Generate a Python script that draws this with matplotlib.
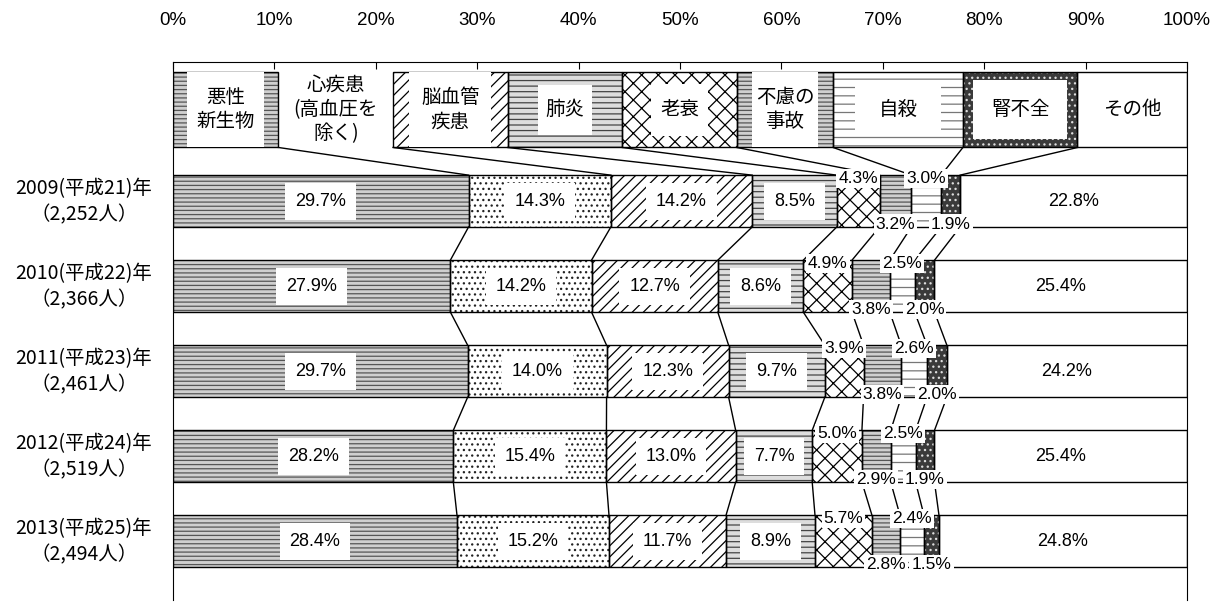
#Causes of death by year - stacked 100% bars with hatched patterns
import matplotlib.pyplot as plt
import numpy as np
from matplotlib import font_manager
from matplotlib.patches import Rectangle

plt.rcParams['font.family'] = ['Noto Sans CJK JP', 'DejaVu Sans']
plt.rcParams['hatch.linewidth'] = 0.9

#pick a narrower font for the numbers if there is one
names = {f.name for f in font_manager.fontManager.ttflist}
num_font = 'DejaVu Sans'
for cand in ['Liberation Sans Narrow', 'Liberation Sans']:
    if cand in names:
        num_font = cand
        break

#Data
years = ['2009(平成21)年', '2010(平成22)年', '2011(平成23)年', '2012(平成24)年', '2013(平成25)年']
deaths = ['（2,252人）', '（2,366人）', '（2,461人）', '（2,519人）', '（2,494人）']
causes = ['悪性新生物', '心疾患(高血圧を除く)', '脳血管疾患', '肺炎', '老衰',
          '不慮の事故', '自殺', '腎不全', 'その他']
legend_labels = ['悪性\n新生物', '心疾患\n(高血圧を\n除く)', '脳血管\n疾患', '肺炎', '老衰',
                 '不慮の\n事故', '自殺', '腎不全', 'その他']
malignant = [29.7, 27.9, 29.7, 28.2, 28.4]
heart = [14.3, 14.2, 14.0, 15.4, 15.2]
cerebro = [14.2, 12.7, 12.3, 13.0, 11.7]
pneumonia = [8.5, 8.6, 9.7, 7.7, 8.9]
senility = [4.3, 4.9, 3.9, 5.0, 5.7]
accident = [3.2, 3.8, 3.8, 2.9, 2.8]
suicide = [3.0, 2.5, 2.6, 2.5, 2.4]
renal = [1.9, 2.0, 2.0, 1.9, 1.5]
other = [22.8, 25.4, 24.2, 25.4, 24.8]

values = np.array([malignant, heart, cerebro, pneumonia, senility,
                   accident, suicide, renal, other])
#the printed shares add up to a bit over 100, bars are scaled to the full width
norm = values / values.sum(axis=0) * 100
cum = np.vstack([np.zeros(len(years)), np.cumsum(norm, axis=0)])

#styles: (face, hatch, hatch colour)
styles = [('#cfcfcf', '----', '#555555'),
          ('white', '...', '#222222'),
          ('white', '///', 'black'),
          ('#dddddd', '---', '#444444'),
          ('white', 'xx', 'black'),
          ('#cfcfcf', '----', '#555555'),
          ('white', '--', '#777777'),
          ('#3a3a3a', '...', '#dddddd'),
          ('white', '', 'black')]

fig = plt.figure(figsize=(12.27, 6.16), dpi=100)
ax = fig.add_axes([173 / 1227, 16 / 616, 1014 / 1227, 538 / 616])
ypos = np.arange(len(years))
bar_h = 0.61

for k in range(len(causes)):
    face, hatch, hc = styles[k]
    ax.barh(ypos, norm[k], left=cum[k], height=bar_h, color=face, hatch=hatch,
            edgecolor=hc, linewidth=0, zorder=2)
    ax.barh(ypos, norm[k], left=cum[k], height=bar_h, fill=False,
            edgecolor='black', linewidth=1, zorder=3)

#series lines between the bars
for j in range(1, len(causes)):
    for i in range(len(years) - 1):
        ax.plot([cum[j][i], cum[j][i + 1]], [i + bar_h / 2, i + 1 - bar_h / 2],
                color='black', lw=1, zorder=3)

#value labels
for i in range(len(years)):
    for k in range(len(causes)):
        xc = cum[k][i] + norm[k][i] / 2
        txt = f'{values[k][i]:.1f}%'
        if k in (4, 5, 6, 7):
            yc = i - 0.27 if k in (4, 6) else i + 0.27
            ax.text(xc, yc, txt, ha='center', va='center', fontsize=12.5, family=num_font,
                    bbox=dict(boxstyle='square,pad=0.12', fc='white', ec='none'), zorder=5)
        else:
            ax.text(xc, i, txt, ha='center', va='center', fontsize=13, family=num_font,
                    bbox=dict(boxstyle='square,pad=0.55', fc='white', ec='none'), zorder=5)
    ax.text(-8.8, i - 0.15, years[i], ha='center', va='center', fontsize=14, clip_on=False)
    ax.text(-8.8, i + 0.16, deaths[i], ha='center', va='center', fontsize=14, clip_on=False)

#legend boxes along the top, joined to the 2009 bar
leg_edges = [0, 10.4, 21.7, 33.0, 44.3, 55.6, 65.1, 77.9, 89.2, 100]
leg_top, leg_bot = -1.52, -0.63
#white inner box insets (x in %, y in bar units)
insets = [(1.4, 0.0), None, (1.6, 0.0), (3.0, 0.15), (2.8, 0.14),
          (1.5, 0.0), (2.2, 0.13), (1.0, 0.1), None]
for k in range(len(causes)):
    face, hatch, hc = styles[k]
    x0, x1 = leg_edges[k], leg_edges[k + 1]
    if k != 1:
        ax.add_patch(Rectangle((x0, leg_top), x1 - x0, leg_bot - leg_top, facecolor=face,
                               hatch=hatch, edgecolor=hc, linewidth=0, zorder=2))
        ax.add_patch(Rectangle((x0, leg_top), x1 - x0, leg_bot - leg_top, fill=False,
                               edgecolor='black', linewidth=1, zorder=3))
    if insets[k] is not None:
        dx, dy = insets[k]
        ax.add_patch(Rectangle((x0 + dx, leg_top + dy), x1 - x0 - 2 * dx,
                               leg_bot - leg_top - 2 * dy, facecolor='white',
                               edgecolor='none', zorder=4))
    ax.text((x0 + x1) / 2, (leg_top + leg_bot) / 2, legend_labels[k], ha='center',
            va='center', fontsize=14, linespacing=1.2, zorder=5)
    if k > 0:
        ax.plot([leg_edges[k], cum[k][0]], [leg_bot, -bar_h / 2], color='black', lw=1, zorder=3)

ax.set_xlim(0, 100)
ax.set_ylim(4.69, -1.635)
ax.xaxis.tick_top()
ax.set_xticks(np.arange(0, 101, 10))
ax.set_xticklabels([f'{t}%' for t in range(0, 101, 10)], family=num_font, fontsize=13.5)
ax.tick_params(axis='x', direction='in', length=5, pad=24)
ax.set_yticks([])
ax.spines['bottom'].set_visible(False)

plt.savefig('out.png', dpi=100)
plt.close()
